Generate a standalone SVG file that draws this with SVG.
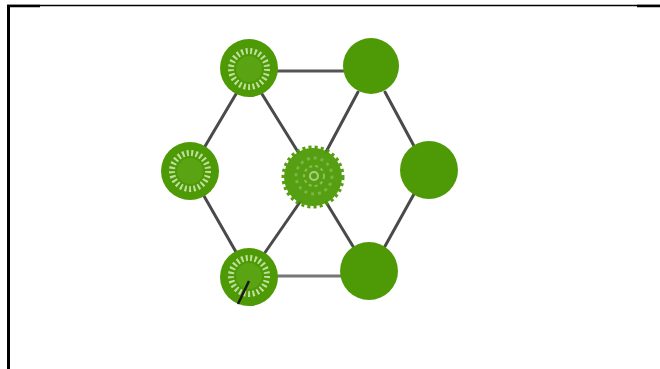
<svg xmlns="http://www.w3.org/2000/svg" width="660" height="369" viewBox="0 0 660 369">
<style>
.edge{stroke:#4a4a4a;stroke-width:3;stroke-linecap:round}
.blob{fill:#4e9a06}
.ring{fill:none;stroke:#bfe09e;stroke-width:6;stroke-dasharray:2 2.5}
.inner{fill:#5aa312}
</style>
<rect width="660" height="369" fill="#fff"/>
<g id="frame">
<line x1="7" y1="5.5" x2="660" y2="5.5" stroke="#000" stroke-width="1.5"/>
<line x1="7" y1="6" x2="40" y2="6" stroke="#000" stroke-width="2.5"/>
<line x1="637" y1="6" x2="660" y2="6" stroke="#000" stroke-width="2.5"/>
<line x1="8.5" y1="5" x2="8.5" y2="369" stroke="#000" stroke-width="3"/>
</g>
<g id="connectors">
<line class="edge" x1="249" y1="71" x2="371" y2="71" stroke-width="4" style="stroke:#555"/>
<line class="edge" x1="249" y1="276" x2="369" y2="276" style="stroke:#777"/>
<line class="edge" x1="236" y1="94" x2="204" y2="148"/>
<line class="edge" x1="262" y1="94" x2="298" y2="152"/>
<line class="edge" x1="358" y1="92" x2="326" y2="152"/>
<line class="edge" x1="385" y1="92" x2="414" y2="146"/>
<line class="edge" x1="204" y1="196" x2="236" y2="252"/>
<line class="edge" x1="300" y1="202" x2="264" y2="254"/>
<line class="edge" x1="326" y1="202" x2="354" y2="248"/>
<line class="edge" x1="414" y1="194" x2="384" y2="248"/>
</g>
<g id="n-top-left">
<circle class="blob" cx="249" cy="68" r="29"/>
<circle class="ring" cx="249" cy="69" r="18"/>
<circle class="inner" cx="249" cy="69" r="13"/>
</g>
<g id="n-top-right">
<circle class="blob" cx="371" cy="66" r="28"/>
</g>
<g id="n-left">
<circle class="blob" cx="190" cy="171" r="29"/>
<circle class="ring" cx="190" cy="171" r="18"/>
<circle class="inner" cx="190" cy="171" r="13"/>
</g>
<g id="n-center">
<circle class="blob" cx="313" cy="177" r="29" stroke="#4e9a06" stroke-width="5" stroke-dasharray="3 3" opacity="0.95"/>
<circle cx="314" cy="176" r="18" fill="none" stroke="#7bb545" stroke-width="3" stroke-dasharray="3 4"/>
<circle cx="314" cy="176" r="10" fill="none" stroke="#8cc05a" stroke-width="2" stroke-dasharray="3 3"/>
<circle cx="314" cy="176" r="4" fill="none" stroke="#a7cf80" stroke-width="2"/>
</g>
<g id="n-right">
<circle class="blob" cx="429" cy="170" r="29"/>
</g>
<g id="n-bottom-left">
<circle class="blob" cx="249" cy="277" r="29"/>
<circle class="ring" cx="249" cy="276" r="18"/>
<circle class="inner" cx="249" cy="276" r="13"/>
<line x1="249" y1="281" x2="238" y2="304" stroke="#1a1a1a" stroke-width="2.5"/>
</g>
<g id="n-bottom-right">
<circle class="blob" cx="369" cy="271" r="29"/>
</g>
</svg>
